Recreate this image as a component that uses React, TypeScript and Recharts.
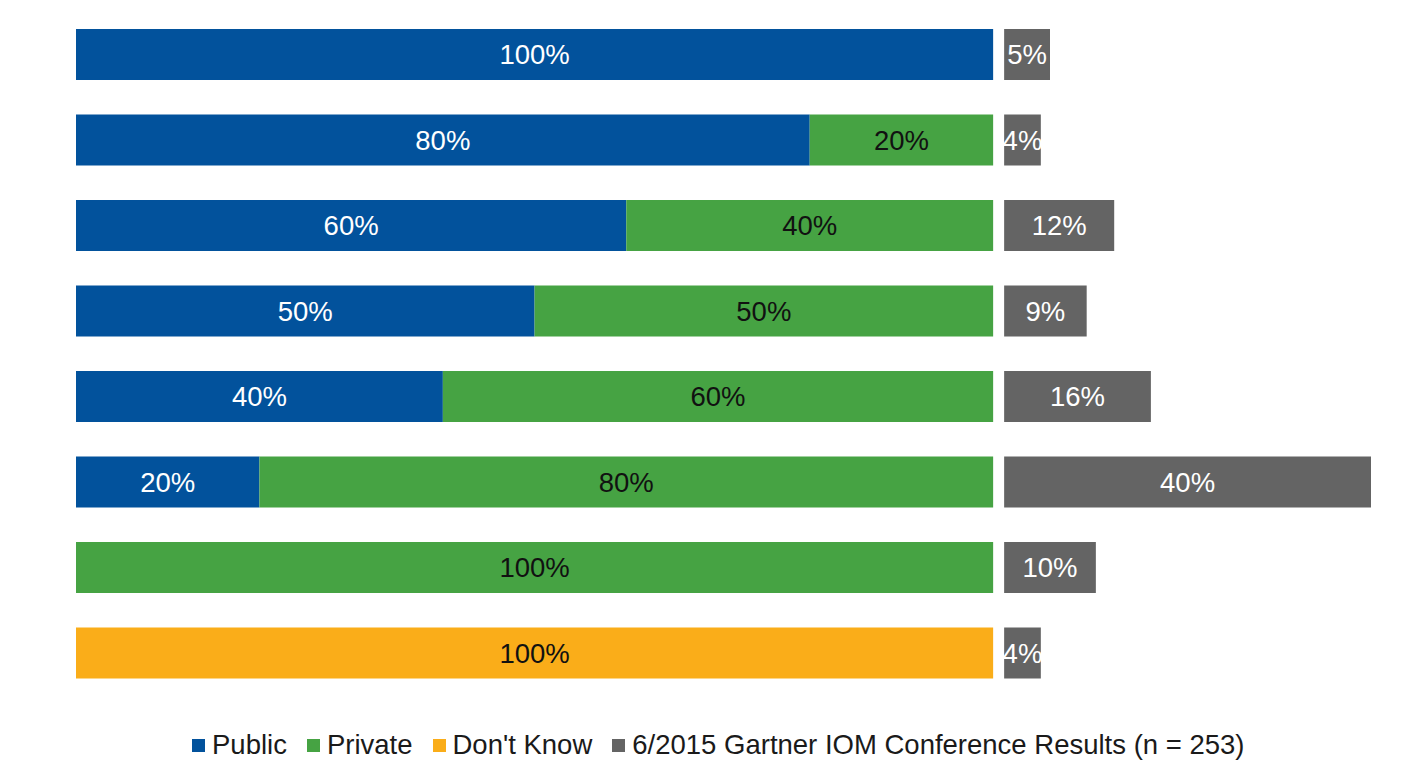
import React from 'react';
import { BarChart, Bar, XAxis, YAxis, LabelList } from 'recharts';

// Cloud mix options, top to bottom
const mixes = ['100/0', '80/20', '60/40', '50/50', '40/60', '20/80', '0/100', 'unknown'];
const publicShare = [100, 80, 60, 50, 40, 20, 0, 0];
const privateShare = [0, 20, 40, 50, 60, 80, 100, 0];
const dontKnowShare = [0, 0, 0, 0, 0, 0, 0, 100];
// Share of respondents picking each mix
const conferenceResults = [5, 4, 12, 9, 16, 40, 10, 4];

const SPACER = 1.2; // empty room between the mix bar and the results bar

const COLORS = {
  public: '#02529C',
  private: '#46A343',
  dontKnow: '#FAAD19',
  results: '#646464',
};

const FONT = '"Liberation Sans", Arial, sans-serif';

const legendItems = [
  { label: 'Public', color: COLORS.public },
  { label: 'Private', color: COLORS.private },
  { label: "Don't Know", color: COLORS.dontKnow },
  { label: '6/2015 Gartner IOM Conference Results (n = 253)', color: COLORS.results },
];

const data = mixes.map((name, i) => ({
  name,
  public: publicShare[i],
  private: privateShare[i],
  dontKnow: dontKnowShare[i],
  spacer: SPACER,
  results: conferenceResults[i],
}));

const pct = (v: any) => (v ? `${v}%` : '');

const labelStyle = (fill: string) => ({ fill, fontSize: 27.5, fontFamily: FONT });

export default function App() {
  return (
    <div style={{ position: 'relative', width: 1419, height: 762 }}>
      <BarChart
        width={1419}
        height={700}
        data={data}
        layout="vertical"
        margin={{ top: 4, right: 56, left: 68, bottom: 12 }}
        barSize={51}
      >
        <XAxis type="number" domain={[0, 100 + SPACER + 40]} hide allowDataOverflow />
        <YAxis type="category" dataKey="name" hide />
        <Bar dataKey="public" stackId="a" fill={COLORS.public} isAnimationActive={false}>
          <LabelList dataKey="public" position="center" formatter={pct} style={labelStyle('#ffffff')} />
        </Bar>
        <Bar dataKey="private" stackId="a" fill={COLORS.private} isAnimationActive={false}>
          <LabelList dataKey="private" position="center" formatter={pct} style={labelStyle('#111111')} />
        </Bar>
        <Bar dataKey="dontKnow" stackId="a" fill={COLORS.dontKnow} isAnimationActive={false}>
          <LabelList dataKey="dontKnow" position="center" formatter={pct} style={labelStyle('#111111')} />
        </Bar>
        <Bar dataKey="spacer" stackId="a" fill="transparent" isAnimationActive={false} />
        <Bar dataKey="results" stackId="a" fill={COLORS.results} isAnimationActive={false}>
          <LabelList dataKey="results" position="center" formatter={pct} style={labelStyle('#ffffff')} />
        </Bar>
      </BarChart>
      <div
        style={{
          position: 'absolute',
          top: 721,
          left: 184,
          display: 'flex',
          alignItems: 'center',
          fontFamily: FONT,
          fontSize: 27.5,
          color: '#1a1a1a',
          whiteSpace: 'nowrap',
        }}
      >
        {legendItems.map((item) => (
          <div key={item.label} style={{ display: 'flex', alignItems: 'center', marginRight: 20 }}>
            <span style={{ width: 13, height: 13, background: item.color, marginRight: 7, display: 'inline-block' }} />
            <span>{item.label}</span>
          </div>
        ))}
      </div>
    </div>
  );
}
